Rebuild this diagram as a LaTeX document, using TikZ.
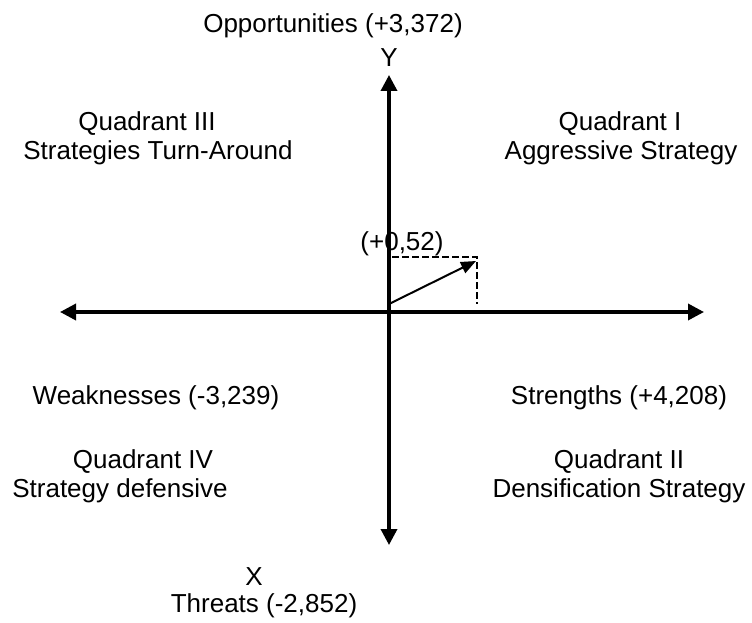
\documentclass[tikz,border=0pt]{standalone}
\usepackage{fontspec}
\setmainfont{Liberation Sans}
\usepackage{tikz}
\usetikzlibrary{arrows.meta}

\begin{document}
\begin{tikzpicture}[
    x=1pt, y=-1pt,
    lbl/.style={inner sep=0pt, anchor=base, font=\fontsize{26}{30}\selectfont},
    axis/.style={line width=3.5pt, {Triangle[length=16pt, width=16pt]}-{Triangle[length=16pt, width=16pt]}},
    vec/.style={line width=2pt, -{Triangle[length=15pt, width=12pt]}},
    guide/.style={line width=2pt, dash pattern=on 7pt off 3pt}
]
\useasboundingbox (0,0) rectangle (752,623);

% Axes
\coordinate (xmin) at (60,312);
\coordinate (xmax) at (704,312);
\coordinate (ymax) at (389,75);
\coordinate (ymin) at (389,545);
\draw[axis] (xmin) -- (xmax);
\draw[axis] (ymin) -- (ymax);

% Resultant vector
\coordinate (start) at (389,304);
\coordinate (tip) at (476,261);
\coordinate (corner) at (477,257);
\coordinate (ytick) at (392,257);
\draw[guide] (ytick) -- (corner) -- (corner |- start);
\draw[vec] (start) -- (tip);

% Axis labels
\node[lbl] (opp) at (333,33) {Opportunities (+3,372)};
\node[lbl] (ylabel) at (389,67) {Y};
\node[lbl] (xlabel) at (254,585) {X};
\node[lbl] (threat) at (264,612) {Threats (-2,852)};
\node[lbl] (weak) at (156,404) {Weaknesses (-3,239)};
\node[lbl] (strong) at (619,404) {Strengths (+4,208)};
\node[lbl] (point) at (402,250) {(+0,52)};

% Quadrants
\node[lbl] (q3) at (147,131) {Quadrant III};
\node[lbl] (q3s) at (158,160) {Strategies Turn-Around};
\node[lbl] (q1) at (620,131) {Quadrant I};
\node[lbl] (q1s) at (621,160) {Aggressive Strategy};
\node[lbl] (q4) at (143,468) {Quadrant IV};
\node[lbl] (q4s) at (120,497) {Strategy defensive};
\node[lbl] (q2) at (619,468) {Quadrant II};
\node[lbl] (q2s) at (619,497) {Densification Strategy};

\end{tikzpicture}
\end{document}
